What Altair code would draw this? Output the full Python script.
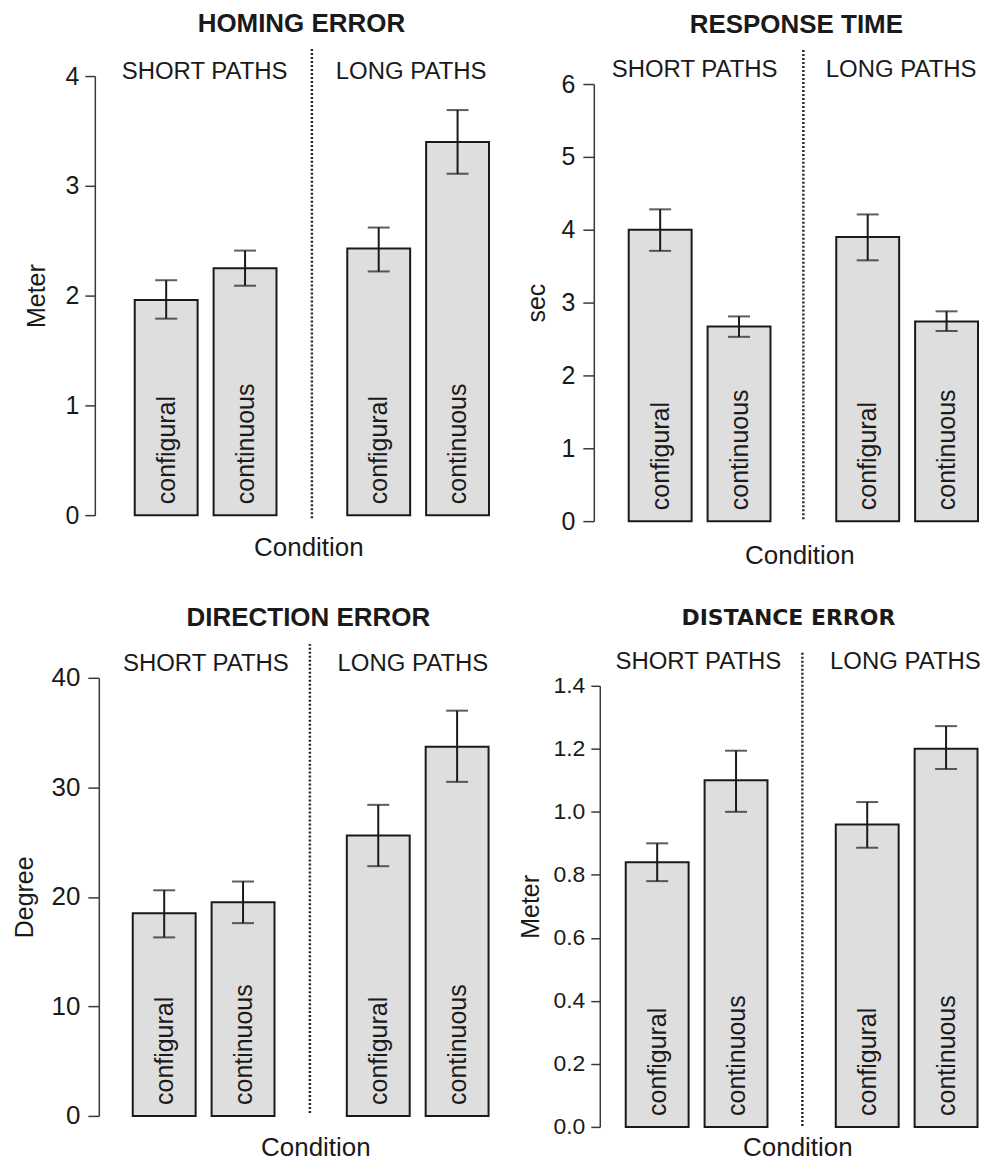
import altair as alt
import pandas as pd

# ---------------- data ----------------
groups = ["SHORT PATHS", "LONG PATHS"]
conditions = ["configural", "continuous"]
bar_group = ["SHORT PATHS", "SHORT PATHS", "LONG PATHS", "LONG PATHS"]
bar_condition = ["configural", "continuous", "configural", "continuous"]

titles = ["HOMING ERROR", "RESPONSE TIME", "DIRECTION ERROR", "DISTANCE ERROR"]
y_titles = ["Meter", "sec", "Degree", "Meter"]

homing_mean = [1.96, 2.25, 2.43, 3.40]
homing_lo = [1.79, 2.09, 2.22, 3.11]
homing_hi = [2.14, 2.41, 2.62, 3.69]
homing_ticks = [0, 1, 2, 3, 4]

response_mean = [4.00, 2.67, 3.90, 2.74]
response_lo = [3.71, 2.53, 3.58, 2.61]
response_hi = [4.28, 2.81, 4.21, 2.88]
response_ticks = [0, 1, 2, 3, 4, 5, 6]

direction_mean = [18.5, 19.5, 25.6, 33.7]
direction_lo = [16.3, 17.6, 22.8, 30.5]
direction_hi = [20.6, 21.4, 28.4, 37.0]
direction_ticks = [0, 10, 20, 30, 40]

distance_mean = [0.84, 1.10, 0.96, 1.20]
distance_lo = [0.78, 1.00, 0.886, 1.136]
distance_hi = [0.90, 1.194, 1.031, 1.272]
distance_ticks = [0.0, 0.2, 0.4, 0.6, 0.8, 1.0, 1.2, 1.4]

# ---------------- styling / geometry (pixels) ----------------
FONT = "Liberation Sans"
INK = "#1a1a1a"
AXC = "#3a3a3a"

geo = [
    dict(w=397, h=440, yr=[440, 0], xr=[40, 395], pi=0.333, pio=0.2025, off=0,
         tick=10, lpad=6, lfs=25, tpad=15.6, tx=207, ty=-52, tfont=FONT, tfs=26,
         sub_y=-4, sub_dx=[-1, -7], div=[-27, 445], ctx=214, ctp=19, fmt="d"),
    dict(w=388, h=446, yr=[446, 8], xr=[35, 385], pi=0.317, pio=0.2, off=0,
         tick=11, lpad=8, lfs=25, tpad=11, tx=203, ty=-51, tfont=FONT, tfs=26,
         sub_y=-6, sub_dx=[-5, -6], div=[-26, 446], ctx=206, ctp=21, fmt="d"),
    dict(w=397, h=439, yr=[439, 0], xr=[38, 393], pi=0.345, pio=0.187, off=-4,
         tick=11, lpad=8, lfs=26, tpad=14, tx=214, ty=-60, tfont=FONT, tfs=26,
         sub_y=-14, sub_dx=[3, -4], div=[-34, 437], ctx=221, ctp=19, fmt="d"),
    dict(w=388, h=450, yr=[450, 8], xr=[32, 386], pi=0.318, pio=0.172, off=-6,
         tick=9, lpad=6, lfs=23, tpad=9.5, tx=195, ty=-60, tfont="DejaVu Sans", tfs=22,
         sub_y=-16, sub_dx=[1, -2], div=[-25, 450], ctx=204, ctp=8, fmt=".1f"),
]

series = [
    (homing_mean, homing_lo, homing_hi, homing_ticks),
    (response_mean, response_lo, response_hi, response_ticks),
    (direction_mean, direction_lo, direction_hi, direction_ticks),
    (distance_mean, distance_lo, distance_hi, distance_ticks),
]


def panel(i):
    g = geo[i]
    mean, lo, hi, ticks = series[i]
    df = pd.DataFrame({"group": bar_group, "condition": bar_condition,
                       "mean": mean, "lo": lo, "hi": hi})
    base = alt.Chart(df)

    xs = alt.Scale(domain=groups, range=g["xr"], paddingInner=g["pi"], paddingOuter=0)
    xaxis = alt.Axis(title="Condition", labels=False, ticks=False, domain=False,
                     titleFont=FONT, titleFontSize=26, titleFontWeight="normal",
                     titleColor=INK, titlePadding=g["ctp"], titleX=g["ctx"])
    xoff = alt.XOffset("condition:N",
                       scale=alt.Scale(domain=conditions, paddingInner=g["pio"], paddingOuter=0))
    ys = alt.Scale(domain=[0, max(ticks)], range=g["yr"], nice=False, zero=True)
    yaxis = alt.Axis(title=y_titles[i], values=ticks, format=g["fmt"], grid=False,
                     offset=g["off"], tickSize=g["tick"], tickWidth=1.5, tickColor=AXC,
                     domainColor=AXC, domainWidth=1.5, labelFont=FONT,
                     labelFontSize=g["lfs"], labelColor=INK, labelPadding=g["lpad"],
                     labelOverlap=False, titleFont=FONT, titleFontSize=25,
                     titleFontWeight="normal", titleColor=INK, titlePadding=g["tpad"])

    def X():
        return alt.X("group:N", scale=xs, axis=xaxis)

    def Y(f):
        return alt.Y(f, scale=ys, axis=yaxis)

    bars = base.mark_bar(fill="#dedede", stroke=INK, strokeWidth=2).encode(
        x=X(), xOffset=xoff, y=Y("mean:Q"))
    err = base.mark_rule(color=INK, strokeWidth=2).encode(
        x=X(), xOffset=xoff, y=Y("lo:Q"), y2="hi:Q")
    cap_lo = base.mark_tick(color=INK, size=22, thickness=2).encode(
        x=X(), xOffset=xoff, y=Y("lo:Q"))
    cap_hi = base.mark_tick(color=INK, size=22, thickness=2).encode(
        x=X(), xOffset=xoff, y=Y("hi:Q"))
    labels = base.mark_text(angle=270, align="left", baseline="alphabetic", dx=11, dy=8.8,
                            font=FONT, fontSize=25, color=INK).encode(
        x=X(), xOffset=xoff, y=alt.Y(datum=0, type="quantitative", scale=ys, axis=yaxis),
        text="condition:N")

    subs = []
    for k, grp in enumerate(groups):
        subs.append(
            alt.Chart(pd.DataFrame({"group": [grp]})).mark_text(
                font=FONT, fontSize=24, color=INK, baseline="middle", dx=g["sub_dx"][k]
            ).encode(x=X(), y=alt.value(g["sub_y"]), text="group:N"))
    step = (g["xr"][1] - g["xr"][0]) / (2 - g["pi"])
    half_gap = step * g["pi"] / 2
    divider = alt.Chart(pd.DataFrame({"group": [groups[1]]})).mark_rule(
        color="#2a2a2a", strokeWidth=2.5, strokeDash=[2, 2], xOffset=-half_gap).encode(
        x=alt.X("group:N", scale=xs, axis=xaxis, bandPosition=0),
        y=alt.value(g["div"][0]), y2=alt.value(g["div"][1]))
    ttl = alt.Chart(pd.DataFrame({"t": [titles[i]]})).mark_text(
        font=g["tfont"], fontSize=g["tfs"], fontWeight="bold", color=INK,
        baseline="middle").encode(x=alt.value(g["tx"]), y=alt.value(g["ty"]), text="t:N")

    return alt.layer(bars, err, cap_lo, cap_hi, labels, *subs, divider, ttl).properties(
        width=g["w"], height=g["h"])


chart = alt.concat(panel(0), panel(1), panel(2), panel(3), columns=2,
                   spacing={"row": 157, "column": 103}, bounds="flush").properties(
    padding={"left": 4, "top": 2, "right": 0, "bottom": 0}
).configure(background="white").configure_view(stroke=None, strokeWidth=0)

chart.save("out.html", embed_options={"renderer": "svg", "actions": False})
